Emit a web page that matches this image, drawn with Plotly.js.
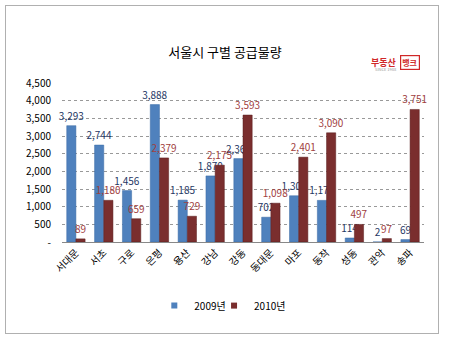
<!DOCTYPE html>
<html><head><meta charset="utf-8">
<script src="https://cdn.plot.ly/plotly-3.0.1.min.js"></script>
<style>
html,body{margin:0;padding:0;background:#fff;}
#wrap{position:relative;width:450px;height:350px;}
#chart{width:450px;height:350px;}
#frame{position:absolute;left:5px;top:5px;width:432px;height:327px;border:1px solid #b0b0b0;pointer-events:none;}
</style></head>
<body>
<div id="wrap"><div id="chart"></div><div id="frame"></div></div>
<script>
const districts = ['서대문','서초','구로','은평','용산','강남','강동','동대문','마포','동작','성동','관악','송파'];
const y2009 = [3293,2744,1456,3888,1185,1870,2361,702,1309,1178,114,2,69];
const y2010 = [89,1180,659,2379,729,2175,3593,1098,2401,3090,497,97,3751];
const seriesNames = ['2009년','2010년'];
const seriesColors = ['#4F81BD','#7A2E2E'];
const yTicks = [0,500,1000,1500,2000,2500,3000,3500,4000,4500];
const yTickText = ['-','500','1,000','1,500','2,000','2,500','3,000','3,500','4,000','4,500'];
const fmt = v => v.toLocaleString('en-US');
const font = '"Noto Sans CJK KR", "Noto Sans", sans-serif';

const traces = [
 {type:'bar', name:seriesNames[0], x:districts, y:y2009, text:y2009.map(fmt), textposition:'outside', showlegend:false,
  cliponaxis:false, constraintext:'none', textfont:{color:'#1F3864', size:10, family:font},
  marker:{color:seriesColors[0], line:{color:'#3A6AA5', width:0.5}}},
 {type:'bar', name:seriesNames[1], x:districts, y:y2010, text:y2010.map(fmt), textposition:'outside', showlegend:false,
  cliponaxis:false, constraintext:'none', textfont:{color:'#A0403E', size:10, family:font},
  marker:{color:seriesColors[1], line:{color:'#5A1E1E', width:0.5}}},
 {type:'scatter', mode:'markers', name:seriesNames[0], x:[null], y:[null], showlegend:true, legend:'legend',
  marker:{symbol:'square', size:6, color:seriesColors[0]}},
 {type:'scatter', mode:'markers', name:seriesNames[1], x:[null], y:[null], showlegend:true, legend:'legend2',
  marker:{symbol:'square', size:6, color:seriesColors[1]}}
];

const legendBase = {orientation:'h', xanchor:'left', y:-0.4, yanchor:'middle', font:{size:10, family:font}, itemwidth:30, bgcolor:'rgba(0,0,0,0)'};

const layout = {
 width:450, height:350,
 margin:{l:62, r:26, t:83, b:108},
 paper_bgcolor:'#fff', plot_bgcolor:'#fff',
 font:{family:font, size:10, color:'#000'},
 title:{text:'서울시 구별 공급물량', x:0.5, xanchor:'center', y:0.85, yanchor:'middle', font:{size:13, family:font, color:'#000'}},
 barmode:'group', bargap:0.34, bargroupgap:0,
 xaxis:{type:'category', tickangle:-45, showgrid:false, showline:true, linecolor:'#888', linewidth:1,
  ticks:'', tickfont:{size:10, family:font}, automargin:false},
 yaxis:{range:[0,4500], tickvals:yTicks, ticktext:yTickText, showgrid:true, gridcolor:'#999', griddash:'dot',
  gridwidth:1, zeroline:false, showline:false, tickfont:{size:10, family:font}, ticks:'', ticklabelstandoff:10, automargin:false},
 showlegend:true,
 legend:Object.assign({}, legendBase, {x:0.255}),
 legend2:Object.assign({}, legendBase, {x:0.42}),
 annotations:[
  {text:'<b>부동산</b>', xref:'paper', yref:'paper', x:0.93, y:1.13, xanchor:'right', yanchor:'middle', showarrow:false,
   font:{size:9, color:'#D02828', family:font}},
  {text:'<b>뱅크</b>', xref:'paper', yref:'paper', x:0.935, y:1.13, xanchor:'left', yanchor:'middle', showarrow:false,
   font:{size:8, color:'#D02828', family:font}, bordercolor:'#D02828', borderwidth:1.2, borderpad:1},
  {text:'SINCE 1988', xref:'paper', yref:'paper', x:0.93, y:1.085, xanchor:'right', yanchor:'middle', showarrow:false,
   font:{size:4, color:'#999', family:font}}
 ]
};
Plotly.newPlot('chart', traces, layout, {staticPlot:true, displayModeBar:false});
</script>
</body></html>
